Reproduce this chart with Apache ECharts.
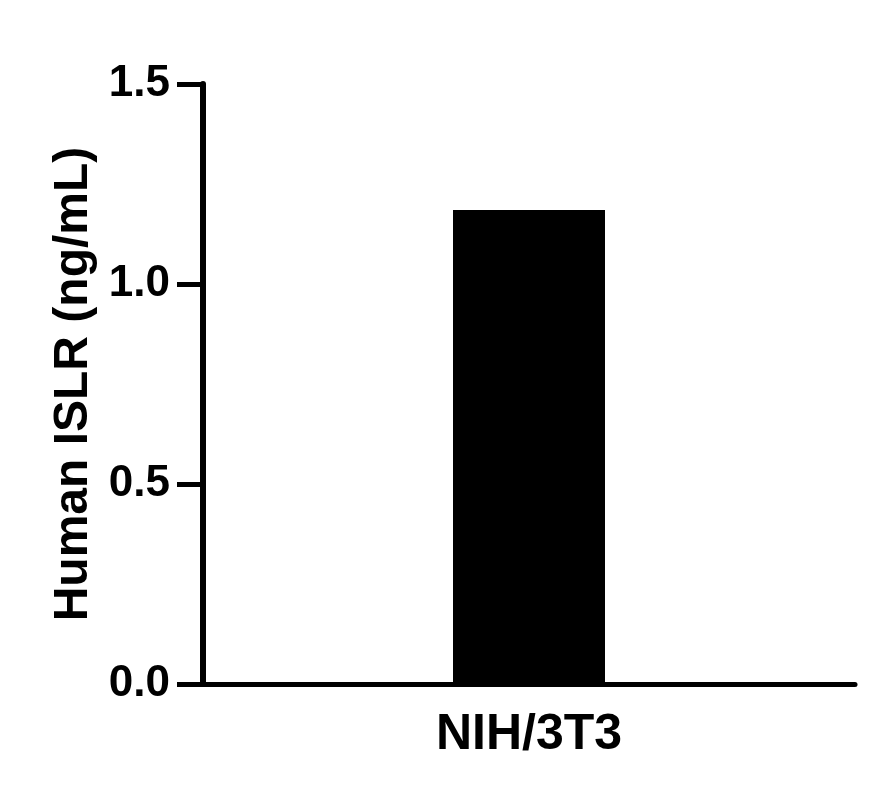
<!DOCTYPE html>
<html>
<head>
<meta charset="utf-8">
<script src="https://cdn.jsdelivr.net/npm/echarts@6/dist/echarts.min.js"></script>
<style>
html,body{margin:0;padding:0;background:#fff;}
#chart{width:884px;height:804px;}
</style>
</head>
<body>
<div id="chart"></div>
<script>
const categories = ['NIH/3T3'];
const values = [1.185];
const yTicks = { min: 0, max: 1.5, interval: 0.5 };
const yAxisTitle = 'Human ISLR (ng/mL)';

const FONT = '"Liberation Sans", Arial, Helvetica, sans-serif';
const chart = echarts.init(document.getElementById('chart'), null, {renderer: 'canvas'});
chart.setOption({
  backgroundColor: '#fff',
  animation: false,
  grid: { left: 203, right: 29, top: 84, bottom: 120, containLabel: false },
  xAxis: {
    type: 'category',
    data: categories,
    axisLine: { show: true, lineStyle: { color: '#000', width: 5 } },
    axisTick: { show: false },
    axisLabel: { color: '#000', fontFamily: FONT, fontWeight: 'bold', fontSize: 50, margin: 26 },
    splitLine: { show: false }
  },
  yAxis: {
    type: 'value',
    min: yTicks.min, max: yTicks.max, interval: yTicks.interval,
    name: yAxisTitle,
    nameLocation: 'middle',
    nameGap: 104,
    nameTextStyle: { color: '#000', fontFamily: FONT, fontWeight: 'bold', fontSize: 48 },
    axisLine: { show: true, lineStyle: { color: '#000', width: 6 } },
    axisTick: { show: true, length: 26, lineStyle: { color: '#000', width: 5 } },
    axisLabel: { color: '#000', fontFamily: FONT, fontWeight: 'bold', fontSize: 44, margin: 33,
      formatter: v => v.toFixed(1) },
    splitLine: { show: false }
  },
  series: [{
    type: 'bar',
    data: values,
    barWidth: 152,
    itemStyle: { color: '#000' }
  }]
});
</script>
</body>
</html>
